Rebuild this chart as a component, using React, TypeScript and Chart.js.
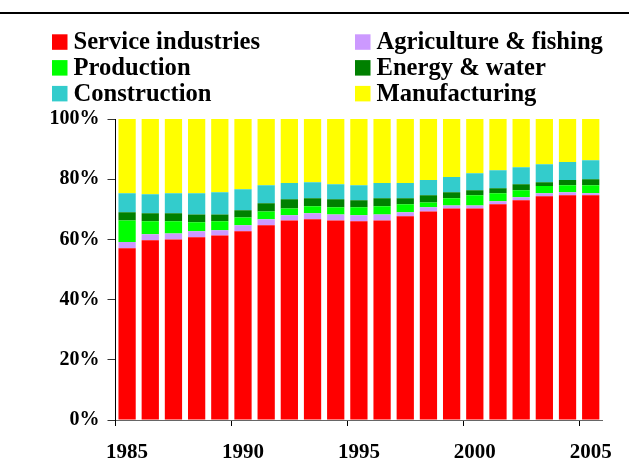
import React, { useEffect, useRef } from 'react';
import { Chart, registerables } from 'chart.js';

Chart.register(...registerables);

const years = ['1985','1986','1987','1988','1989','1990','1991','1992','1993','1994','1995','1996','1997','1998','1999','2000','2001','2002','2003','2004','2005'];
const labeledYears = ['1985','1990','1995','2000','2005'];

const serviceIndustries = [57.1,59.7,60.0,60.7,61.3,62.7,64.7,66.3,66.7,66.3,66.0,66.3,67.7,69.3,70.3,70.3,71.7,73.0,74.3,74.7,74.7];
const agricultureFishing = [2.0,2.0,2.0,2.0,1.7,2.0,2.0,1.7,2.0,2.0,2.0,2.0,1.3,1.4,1.0,1.0,1.0,1.0,1.0,1.0,0.6];
const production = [7.2,4.3,4.0,3.0,3.0,2.6,2.6,2.3,2.3,2.4,2.7,2.7,2.7,1.6,2.4,3.4,2.6,2.3,2.4,2.3,2.7];
const energyWater = [2.7,2.7,2.7,2.6,2.3,2.4,2.7,3.0,2.7,2.6,2.3,2.7,2.0,2.4,2.0,1.6,1.7,2.0,1.3,1.7,2.0];
const construction = [6.3,6.3,6.6,7.0,7.4,7.0,6.0,5.4,5.3,5.0,5.0,5.0,5.0,5.0,5.0,5.7,6.0,5.7,6.0,6.0,6.3];
const manufacturing = [24.7,25.0,24.7,24.7,24.3,23.3,22.0,21.3,21.0,21.7,22.0,21.3,21.3,20.3,19.3,18.0,17.0,16.0,15.0,14.3,13.7];

const yTickValues = [0, 20, 40, 60, 80, 100];

const seriesNames = ['Service industries', 'Agriculture & fishing', 'Production', 'Energy & water', 'Construction', 'Manufacturing'];
const seriesColors = ['#FF0000', '#CC99FF', '#00FF00', '#008000', '#33CCCC', '#FFFF00'];
const seriesValues = [serviceIndustries, agricultureFishing, production, energyWater, construction, manufacturing];

const FONT = '"Liberation Serif", "Times New Roman", serif';

const gridLegend = {
  id: 'gridLegend',
  afterDraw(chart: any) {
    const ctx = chart.ctx;
    ctx.save();
    ctx.fillStyle = '#000';
    ctx.fillRect(0, 12, chart.width, 2);
    ctx.font = `bold 24.6px ${FONT}`;
    ctx.textBaseline = 'alphabetic';
    ctx.textAlign = 'left';
    chart.data.datasets.forEach((ds: any, i: number) => {
      const col = i % 2;
      const row = Math.floor(i / 2);
      const bx = col === 0 ? 52 : 355;
      const by = 34.3 + row * 25.8;
      ctx.fillStyle = ds.backgroundColor;
      ctx.fillRect(bx, by, 15.5, 15.5);
      ctx.fillStyle = '#000';
      ctx.fillText(ds.label, bx + 21.5, by + 15);
    });
    ctx.restore();
  },
};

export default function App() {
  const ref = useRef<HTMLCanvasElement | null>(null);

  useEffect(() => {
    if (!ref.current) return;
    const chart = new Chart(ref.current, {
      type: 'bar',
      data: {
        labels: years,
        datasets: seriesNames.map((name, i) => ({
          label: name,
          data: seriesValues[i],
          backgroundColor: seriesColors[i],
          borderWidth: 0,
          barPercentage: 0.745,
          categoryPercentage: 1,
        })),
      },
      options: {
        animation: false,
        responsive: false,
        devicePixelRatio: 1,
        layout: { padding: { top: 119, left: 0, right: 26.7, bottom: 0 } },
        plugins: { legend: { display: false }, tooltip: { enabled: false } },
        scales: {
          x: {
            stacked: true,
            offset: true,
            afterFit: (s: any) => { s.height = 41; },
            border: { display: true, color: '#666', width: 1 },
            grid: {
              offset: true,
              drawOnChartArea: false,
              drawTicks: true,
              tickLength: 6,
              color: (ctx: any) => (ctx.index % 5 === 0 && ctx.index < years.length ? '#000' : 'rgba(0,0,0,0)'),
            },
            ticks: {
              autoSkip: false,
              maxRotation: 0,
              padding: 14,
              color: '#000',
              font: { family: FONT, size: 21, weight: 'bold' },
              callback: function (this: any, _v: any, idx: number) {
                const lab = years[idx];
                return labeledYears.includes(lab) ? lab : '';
              },
            },
          },
          y: {
            stacked: true,
            min: 0,
            max: 100,
            afterFit: (s: any) => { s.width = 115.5; },
            afterBuildTicks: (s: any) => { s.ticks = yTickValues.map((v) => ({ value: v })); },
            border: { display: true, color: '#000', width: 1 },
            grid: { drawOnChartArea: false, tickLength: 8, color: '#333' },
            ticks: {
              padding: 8,
              color: '#000',
              font: { family: FONT, size: 20, weight: 'bold' },
              callback: (v: any) => `${v}%`,
            },
          },
        },
      },
      plugins: [gridLegend],
    });
    return () => chart.destroy();
  }, []);

  return (
    <div style={{ position: 'fixed', left: 0, top: 0, width: 629, height: 461, background: '#fff' }}>
      <canvas ref={ref} width={629} height={461} style={{ display: 'block', width: 629, height: 461 }} />
    </div>
  );
}
